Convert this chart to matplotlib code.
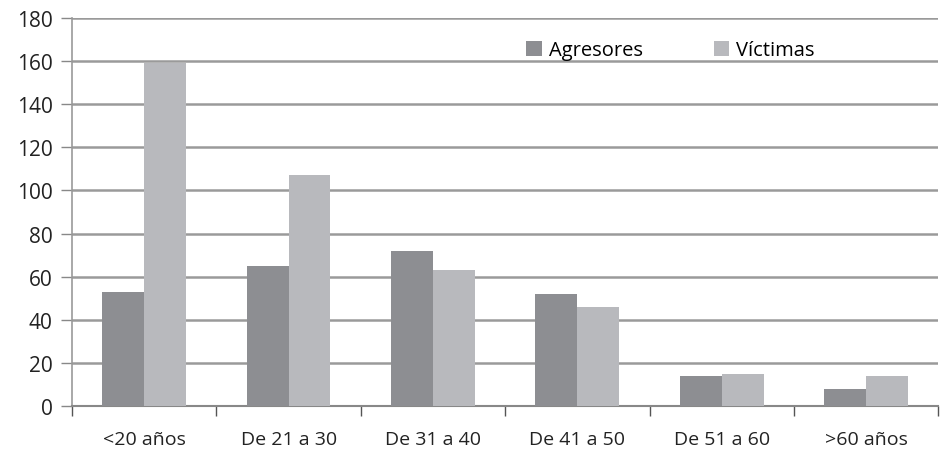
import matplotlib
matplotlib.use("Agg")
import matplotlib.pyplot as plt
import numpy as np

categories = ["<20 años", "De 21 a 30", "De 31 a 40", "De 41 a 50", "De 51 a 60", ">60 años"]
agresores = [53, 65, 72, 52, 14, 8]
victimas = [159, 107, 63, 46, 15, 14]
series_names = ["Agresores", "Víctimas"]
yticks = [0, 20, 40, 60, 80, 100, 120, 140, 160, 180]

plt.rcParams['font.family'] = ['Open Sans', 'DejaVu Sans']

fig = plt.figure(figsize=(9.43, 4.52), dpi=100)
ax = fig.add_axes([0.0764, 0.0996, 0.9186, 0.8584])

x = np.arange(len(categories))
w = 0.29
c1 = "#8d8e92"
c2 = "#b8b9bd"
ax.bar(x - w/2, agresores, w, color=c1, label=series_names[0], zorder=3)
ax.bar(x + w/2, victimas, w, color=c2, label=series_names[1], zorder=3)

ax.set_xlim(-0.5, len(categories) - 0.5)
ax.set_ylim(0, 180)
ax.set_yticks(yticks)
ax.yaxis.grid(True, color="#9a9a9a", linewidth=1.8, zorder=0)
ax.set_axisbelow(True)

ax.set_xticks(x)
ax.set_xticklabels(categories, fontsize=14, color="#222222")
ax.tick_params(axis='x', length=0, pad=17)
ax.set_xticks(np.arange(-0.5, len(categories), 1.0), minor=True)
ax.tick_params(axis='x', which='minor', length=7, width=1, color="#555555", direction='out')
ax.tick_params(axis='y', labelsize=15, length=8, width=1, color="#888888", labelcolor="#222222", pad=6)

for s in ["top", "right"]:
    ax.spines[s].set_visible(False)
ax.spines["left"].set_color("#999999")
ax.spines["left"].set_linewidth(1.2)
ax.spines["bottom"].set_color("#888888")
ax.spines["bottom"].set_linewidth(1.5)

leg = ax.legend(loc="center left", bbox_to_anchor=(0.513, 0.917), ncol=2, frameon=False,
                fontsize=14.5, handlelength=0.75, handleheight=0.75, handletextpad=0.35,
                columnspacing=3.55, borderpad=0)

fig.savefig("out.png", dpi=100, facecolor="white")
